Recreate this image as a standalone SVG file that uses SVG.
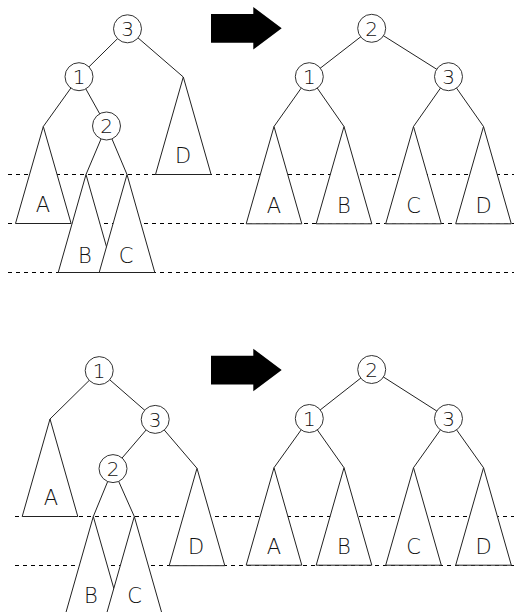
<svg xmlns="http://www.w3.org/2000/svg" width="514" height="612" viewBox="0 0 514 612">
<style>
.guide{stroke:#000;stroke-width:1;stroke-dasharray:4 4;fill:none}
.edge{stroke:#222;stroke-width:1;fill:none}
.tri{fill:#fff;stroke:#222;stroke-width:1;stroke-linejoin:miter}
.node circle{fill:#fff;stroke:#333;stroke-width:1}
.num{font-family:"DejaVu Sans","Liberation Sans",sans-serif;font-weight:200;font-size:20px;text-anchor:middle;fill:#111}
.lab{font-family:"DejaVu Sans","Liberation Sans",sans-serif;font-weight:200;font-size:21px;text-anchor:middle;fill:#111}
.arrow{fill:#000}
</style>
<defs>
<path id="bigArrow" class="arrow" d="M211,14 L253.3,14 L253.3,7 L281.7,28.3 L253.3,49.5 L253.3,42.7 L211,42.7 Z"/>
</defs>

<g id="guides">
<line class="guide" x1="8" y1="174.5" x2="514" y2="174.5"/>
<line class="guide" x1="8" y1="223.5" x2="514" y2="223.5"/>
<line class="guide" x1="8" y1="272.5" x2="514" y2="272.5"/>
<line class="guide" x1="15" y1="516.5" x2="514" y2="516.5"/>
<line class="guide" x1="15" y1="565.5" x2="514" y2="565.5"/>
</g>

<g id="arrows">
<use href="#bigArrow"/>
<use href="#bigArrow" transform="translate(0,341.7)"/>
</g>

<g id="connectors">
<line class="edge" x1="127.5" y1="28.8" x2="79" y2="76.7"/>
<line class="edge" x1="127.5" y1="28.8" x2="183.3" y2="77"/>
<line class="edge" x1="79" y1="76.7" x2="43.3" y2="126.5"/>
<line class="edge" x1="79" y1="76.7" x2="106.5" y2="126"/>
<line class="edge" x1="106.5" y1="126" x2="86" y2="174.5"/>
<line class="edge" x1="106.5" y1="126" x2="127" y2="174.5"/>
<line class="edge" x1="371.7" y1="28.3" x2="309.3" y2="76.7"/>
<line class="edge" x1="371.7" y1="28.3" x2="448.5" y2="76.7"/>
<line class="edge" x1="309.3" y1="76.7" x2="274" y2="126.5"/>
<line class="edge" x1="309.3" y1="76.7" x2="344" y2="126.5"/>
<line class="edge" x1="448.5" y1="76.7" x2="413.5" y2="126.5"/>
<line class="edge" x1="448.5" y1="76.7" x2="483.5" y2="126.5"/>
<line class="edge" x1="99.2" y1="370.6" x2="50" y2="419"/>
<line class="edge" x1="99.2" y1="370.6" x2="155.2" y2="419.4"/>
<line class="edge" x1="155.2" y1="419.4" x2="113" y2="468.6"/>
<line class="edge" x1="155.2" y1="419.4" x2="197" y2="468.3"/>
<line class="edge" x1="113" y1="468.6" x2="93.3" y2="516.5"/>
<line class="edge" x1="113" y1="468.6" x2="134.3" y2="516.5"/>
<line class="edge" x1="371.7" y1="369.5" x2="309.3" y2="418.5"/>
<line class="edge" x1="371.7" y1="369.5" x2="448.5" y2="418.5"/>
<line class="edge" x1="309.3" y1="418.5" x2="274" y2="467.7"/>
<line class="edge" x1="309.3" y1="418.5" x2="344" y2="467.7"/>
<line class="edge" x1="448.5" y1="418.5" x2="413.5" y2="467.7"/>
<line class="edge" x1="448.5" y1="418.5" x2="483.5" y2="467.7"/>
</g>

<g id="tl-A"><polygon class="tri" points="43.3,126.5 15.5,223.5 71.1,223.5"/><text class="lab" x="43" y="212">A</text></g>
<g id="tl-D"><polygon class="tri" points="183.3,77 155.5,174.5 211.1,174.5"/><text class="lab" x="183" y="162.5">D</text></g>
<g id="tl-B"><polygon class="tri" points="86,174.5 58.2,272.5 113.8,272.5"/><text class="lab" x="85" y="262.5">B</text></g>
<g id="tl-C"><polygon class="tri" points="127,174.5 99.2,272.5 154.8,272.5"/><text class="lab" x="126" y="262.5">C</text></g>
<g id="tl-n3" class="node"><circle cx="127.5" cy="28.8" r="14"/><text class="num" x="127.5" y="36">3</text></g>
<g id="tl-n1" class="node"><circle cx="79" cy="76.7" r="14"/><text class="num" x="79" y="83.9">1</text></g>
<g id="tl-n2" class="node"><circle cx="106.5" cy="126" r="14"/><text class="num" x="106.5" y="133.2">2</text></g>

<g id="tr-A"><polygon class="tri" points="274,126.5 246.2,223.8 301.8,223.8"/><text class="lab" x="274" y="213">A</text></g>
<g id="tr-B"><polygon class="tri" points="344,126.5 316.2,223.8 371.8,223.8"/><text class="lab" x="344" y="213">B</text></g>
<g id="tr-C"><polygon class="tri" points="413.5,126.5 385.7,223.8 441.3,223.8"/><text class="lab" x="413.5" y="213">C</text></g>
<g id="tr-D"><polygon class="tri" points="483.5,126.5 455.7,223.8 511.3,223.8"/><text class="lab" x="483.5" y="213">D</text></g>
<g id="tr-n2" class="node"><circle cx="371.7" cy="28.3" r="14"/><text class="num" x="371.7" y="35.5">2</text></g>
<g id="tr-n1" class="node"><circle cx="309.3" cy="76.7" r="14"/><text class="num" x="309.3" y="83.9">1</text></g>
<g id="tr-n3" class="node"><circle cx="448.5" cy="76.7" r="14"/><text class="num" x="448.5" y="83.9">3</text></g>

<g id="bl-A"><polygon class="tri" points="50,419 22.2,516.5 77.8,516.5"/><text class="lab" x="51" y="505">A</text></g>
<g id="bl-D"><polygon class="tri" points="197,468.3 169.2,565.7 224.8,565.7"/><text class="lab" x="196" y="553.5">D</text></g>
<g id="bl-B"><polygon class="tri" points="93.3,516.5 65.5,614 121.1,614"/><text class="lab" x="91" y="602.5">B</text></g>
<g id="bl-C"><polygon class="tri" points="134.3,516.5 106.5,614 162.1,614"/><text class="lab" x="134.5" y="602.5">C</text></g>
<g id="bl-n1" class="node"><circle cx="99.2" cy="370.6" r="14"/><text class="num" x="99.2" y="377.8">1</text></g>
<g id="bl-n3" class="node"><circle cx="155.2" cy="419.4" r="14"/><text class="num" x="155.2" y="426.6">3</text></g>
<g id="bl-n2" class="node"><circle cx="113" cy="468.6" r="14"/><text class="num" x="113" y="475.8">2</text></g>

<g id="br-A"><polygon class="tri" points="274,467.7 246.2,565.2 301.8,565.2"/><text class="lab" x="274" y="554">A</text></g>
<g id="br-B"><polygon class="tri" points="344,467.7 316.2,565.2 371.8,565.2"/><text class="lab" x="344" y="554">B</text></g>
<g id="br-C"><polygon class="tri" points="413.5,467.7 385.7,565.2 441.3,565.2"/><text class="lab" x="413.5" y="554">C</text></g>
<g id="br-D"><polygon class="tri" points="483.5,467.7 455.7,565.2 511.3,565.2"/><text class="lab" x="483.5" y="554">D</text></g>
<g id="br-n2" class="node"><circle cx="371.7" cy="369.5" r="14"/><text class="num" x="371.7" y="376.7">2</text></g>
<g id="br-n1" class="node"><circle cx="309.3" cy="418.5" r="14"/><text class="num" x="309.3" y="425.7">1</text></g>
<g id="br-n3" class="node"><circle cx="448.5" cy="418.5" r="14"/><text class="num" x="448.5" y="425.7">3</text></g>
</svg>
